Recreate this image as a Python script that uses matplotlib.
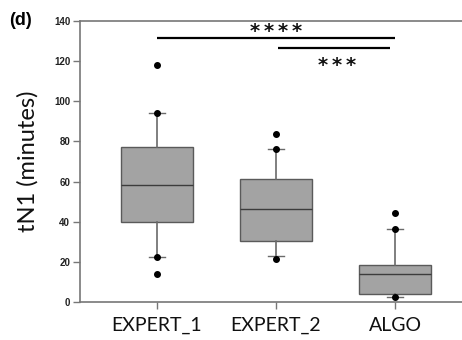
import matplotlib
matplotlib.use("Agg")
import matplotlib.pyplot as plt

groups = ["EXPERT_1", "EXPERT_2", "ALGO"]
q1 = [40.0, 30.4, 4.0]
medians = [58.5, 46.2, 13.8]
q3 = [77.3, 61.1, 18.4]
whisker_lo = [22.6, 22.9, 2.6]
whisker_hi = [94.0, 76.2, 36.2]
outliers = [[118.2, 94.0, 22.6, 14.0],
            [83.7, 76.2, 21.4],
            [44.5, 36.2, 2.6]]

# significance bars and their stars
sig_x0 = [1.0, 2.02]
sig_x1 = [3.0, 2.96]
sig_y = [131.4, 126.4]
sig_labels = ["*\u2009*\u2009*\u2009*", "*\u2009*\u2009*"]
sig_label_x = [2.0, 2.51]
sig_label_y = [134.6, 117.8]

fig = plt.figure(figsize=(4.62, 3.40), dpi=100)
ax = fig.add_axes([0.173, 0.112, 0.827, 0.826])

stats = []
for i, g in enumerate(groups):
    stats.append(dict(label=g, q1=q1[i], med=medians[i], q3=q3[i],
                      whislo=whisker_lo[i], whishi=whisker_hi[i],
                      fliers=outliers[i]))

ax.bxp(stats, positions=[1, 2, 3], widths=0.6, patch_artist=True,
       boxprops=dict(facecolor="#a3a3a3", edgecolor="#5a5a5a", linewidth=1.0),
       medianprops=dict(color="#3c3c3c", linewidth=1.0),
       whiskerprops=dict(color="#6a6a6a", linewidth=1.2),
       capprops=dict(color="#6a6a6a", linewidth=1.0),
       capwidths=0.14,
       flierprops=dict(marker="o", markersize=4, markerfacecolor="black",
                       markeredgecolor="black"))

for x0, x1, y in zip(sig_x0, sig_x1, sig_y):
    ax.plot([x0, x1], [y, y], color="black", linewidth=1.6, solid_capstyle="butt")
for tx, ty, lab in zip(sig_label_x, sig_label_y, sig_labels):
    ax.text(tx, ty, lab, ha="center", va="center", fontsize=14,
            fontweight="bold", family="DejaVu Sans", color="#111111")

ax.set_xlim(0.353, 3.563)
ax.set_ylim(0, 140)
ax.set_yticks(range(0, 141, 20))
ax.set_yticklabels([str(v) for v in range(0, 141, 20)],
                   fontsize=7, fontweight="bold", family="Liberation Sans",
                   color="#222222")
ax.set_xticks([1, 2, 3])
ax.set_xticklabels(groups, fontsize=14, family="Lato", color="#111111")

for side in ["left", "top", "bottom"]:
    ax.spines[side].set_color("#777777")
    ax.spines[side].set_linewidth(1.2)
ax.spines["right"].set_visible(False)
ax.tick_params(axis="y", length=5, width=1, color="#777777", pad=2)
ax.tick_params(axis="x", length=5, width=1, color="#777777", pad=6)

ax.set_ylabel("tN1 (minutes)", fontsize=17, family="Lato", color="#111111",
              labelpad=11)
fig.text(0.02, 0.965, "(d)", fontsize=13, fontweight="bold",
         family="Liberation Sans", va="top", ha="left")

fig.savefig("out.png", dpi=100)
